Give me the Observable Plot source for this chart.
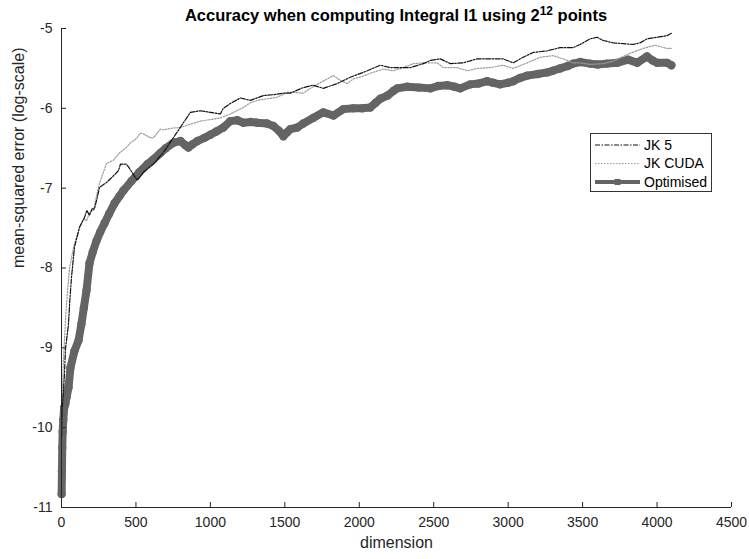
<!DOCTYPE html>
<html>
<head>
<meta charset="utf-8">
<script src="https://cdn.jsdelivr.net/npm/d3@7"></script>
<script src="https://cdn.jsdelivr.net/npm/@observablehq/plot@0.6"></script>
<style>
  html, body { margin: 0; padding: 0; background: #fff; }
  #wrap { position: relative; width: 749px; height: 559px; font-family: "Liberation Sans", Arial, sans-serif; }
  #title { position: absolute; left: 61px; width: 670px; top: 5px; text-align: center; font-weight: bold; font-size: 16.5px; line-height: 20px; color: #000; }
  #title .sup { position: relative; top: -0.5em; font-size: 0.72em; }
  #legend { position: absolute; left: 590px; top: 133px; }
</style>
</head>
<body>
<div id="wrap">
  <div id="chart"></div>
  <div id="title">Accuracy when computing Integral I1 using 2<span class="sup">12</span> points</div>
  <div id="legend"></div>
</div>
<script>
// ---- data ----
const xTicks = [0, 500, 1000, 1500, 2000, 2500, 3000, 3500, 4000, 4500];
const yTicks = [-11, -10, -9, -8, -7, -6, -5];
const seriesNames = ["JK 5", "JK CUDA", "Optimised"];

const jk5Dim = [1,5,13,20,27,47,56,67,87,121,154,170,188,205,221,240,255,302,336,383,396,436,456,490,510,550,617,685,765,819,866,933,1000,1067,1087,1134,1201,1268,1356,1420,1490,1537,1624,1691,1758,1852,1940,2027,2141,2208,2275,2342,2430,2477,2544,2611,2698,2792,2879,2966,3034,3101,3168,3262,3349,3436,3483,3550,3597,3638,3705,3772,3839,3886,3933,4000,4067,4096];
const jk5Val = [-10.1,-9.75,-9.54,-9.32,-9.01,-8.70,-8.40,-8.12,-7.74,-7.49,-7.37,-7.28,-7.34,-7.26,-7.26,-7.12,-6.99,-6.93,-6.87,-6.78,-6.70,-6.70,-6.75,-6.85,-6.90,-6.80,-6.70,-6.55,-6.33,-6.18,-6.05,-6.03,-6.05,-6.07,-6.00,-5.94,-5.87,-5.90,-5.84,-5.83,-5.81,-5.81,-5.74,-5.71,-5.75,-5.69,-5.61,-5.55,-5.46,-5.49,-5.49,-5.49,-5.44,-5.40,-5.38,-5.44,-5.43,-5.38,-5.38,-5.38,-5.43,-5.36,-5.30,-5.28,-5.24,-5.24,-5.20,-5.13,-5.11,-5.15,-5.18,-5.19,-5.20,-5.18,-5.13,-5.11,-5.09,-5.06];

const cudaDim = [1,5,12,20,30,42,54,81,121,150,168,190,215,235,255,302,349,389,436,463,503,530,550,597,617,664,685,732,799,846,933,1000,1067,1134,1221,1268,1315,1450,1517,1557,1624,1671,1738,1785,1826,1872,1919,1960,2007,2074,2161,2228,2295,2362,2430,2523,2564,2658,2725,2792,2879,2966,3034,3128,3215,3302,3369,3436,3483,3550,3638,3705,3819,3906,3987,4067,4096];
const cudaVal = [-10.0,-9.6,-9.2,-8.9,-8.55,-8.25,-8.00,-7.74,-7.49,-7.38,-7.41,-7.30,-7.28,-7.10,-6.94,-6.69,-6.65,-6.56,-6.49,-6.43,-6.38,-6.31,-6.32,-6.37,-6.37,-6.26,-6.27,-6.25,-6.24,-6.21,-6.16,-6.14,-6.12,-6.07,-5.99,-5.93,-5.90,-5.86,-5.80,-5.80,-5.81,-5.75,-5.68,-5.63,-5.59,-5.65,-5.69,-5.63,-5.61,-5.56,-5.51,-5.53,-5.49,-5.44,-5.43,-5.43,-5.49,-5.49,-5.53,-5.50,-5.49,-5.46,-5.50,-5.43,-5.36,-5.34,-5.38,-5.43,-5.43,-5.45,-5.44,-5.41,-5.31,-5.25,-5.21,-5.25,-5.25];

const optDim = [1,3,5,8,12,18,26,34,47,60,87,114,134,150,168,188,210,235,260,289,320,356,390,416,470,523,577,617,664,700,752,799,830,852,880,913,960,1000,1040,1087,1134,1181,1221,1270,1315,1380,1423,1460,1490,1515,1537,1584,1624,1690,1758,1826,1893,1960,2020,2074,2110,2141,2190,2230,2255,2322,2400,2477,2530,2591,2640,2678,2745,2800,2859,2900,2946,3000,3034,3080,3128,3200,3262,3300,3349,3400,3436,3483,3550,3600,3664,3732,3805,3866,3933,3970,4000,4067,4096];
const optVal = [-10.83,-10.55,-10.25,-10.05,-9.9,-9.75,-9.7,-9.62,-9.5,-9.25,-9.04,-8.91,-8.70,-8.5,-8.28,-7.94,-7.80,-7.66,-7.55,-7.44,-7.32,-7.19,-7.10,-7.03,-6.91,-6.80,-6.70,-6.64,-6.56,-6.50,-6.43,-6.41,-6.46,-6.49,-6.45,-6.41,-6.37,-6.33,-6.29,-6.24,-6.16,-6.15,-6.18,-6.17,-6.18,-6.19,-6.22,-6.28,-6.35,-6.30,-6.26,-6.24,-6.19,-6.12,-6.05,-6.09,-6.01,-6.00,-6.00,-5.99,-5.93,-5.88,-5.84,-5.78,-5.75,-5.73,-5.74,-5.75,-5.72,-5.71,-5.73,-5.75,-5.70,-5.69,-5.66,-5.68,-5.70,-5.68,-5.66,-5.62,-5.59,-5.57,-5.55,-5.53,-5.50,-5.47,-5.44,-5.42,-5.44,-5.45,-5.44,-5.43,-5.39,-5.43,-5.35,-5.40,-5.43,-5.43,-5.46];

// ---- tables ----
const toRows = (dims, vals) => dims.map((d, i) => ({d, v: vals[i]}));
const jk5 = toRows(jk5Dim, jk5Val);
const cuda = toRows(cudaDim, cudaVal);
const opt = toRows(optDim, optVal);

const axisColor = "#262626";
const optColor = "#646464";
const cudaColor = "#9c9c9c";
const jk5Color = "#111111";

const chart = Plot.plot({
  width: 749,
  height: 559,
  marginLeft: 61,
  marginRight: 18,
  marginTop: 28,
  marginBottom: 52,
  style: {fontFamily: "'Liberation Sans', Arial, sans-serif", background: "#fff", overflow: "visible"},
  x: {domain: [0, 4500]},
  y: {domain: [-11, -5]},
  marks: [
    Plot.line(opt, {x: "d", y: "v", stroke: optColor, strokeWidth: 8, strokeLinejoin: "round", strokeLinecap: "round"}),
    Plot.dot(opt, {x: "d", y: "v", r: 4.2, fill: optColor, stroke: null}),
    Plot.line(cuda, {x: "d", y: "v", stroke: cudaColor, strokeWidth: 1.2, strokeDasharray: "1.5,1.5"}),
    Plot.line(jk5, {x: "d", y: "v", stroke: jk5Color, strokeWidth: 1.2, strokeDasharray: "5,1.5,1.5,1.5"}),
    Plot.ruleX([0], {stroke: axisColor}),
    Plot.ruleY([-11], {stroke: axisColor}),
    Plot.axisX({ticks: xTicks, tickSize: -5, tickPadding: 15, tickFormat: d => String(d), fontSize: 14, color: axisColor, label: null}),
    Plot.axisY({ticks: yTicks, tickSize: -5, tickPadding: 14, tickFormat: d => String(d), fontSize: 14, color: axisColor, label: null}),
    Plot.text(["dimension"], {frameAnchor: "bottom", dy: 40, fontSize: 16, fill: axisColor}),
    Plot.text(["mean-squared error (log-scale)"], {frameAnchor: "left", dx: -43, rotate: -90, fontSize: 16, fill: axisColor})
  ]
});
document.getElementById("chart").appendChild(chart);

// ---- legend ----
const lg = d3.select("#legend").append("svg").attr("width", 122).attr("height", 59)
  .style("font-family", "'Liberation Sans', Arial, sans-serif");
lg.append("rect").attr("x", 0.5).attr("y", 0.5).attr("width", 121).attr("height", 58)
  .attr("fill", "#fff").attr("stroke", "#333");
const styles = [
  {stroke: jk5Color, w: 1.2, dash: "5,1.5,1.5,1.5"},
  {stroke: cudaColor, w: 1.2, dash: "1.5,1.5"},
  {stroke: optColor, w: 4, dash: null}
];
seriesNames.forEach((name, i) => {
  const y = 12 + i * 18.5;
  const s = styles[i];
  lg.append("line").attr("x1", 5).attr("x2", 50).attr("y1", y).attr("y2", y)
    .attr("stroke", s.stroke).attr("stroke-width", s.w).attr("stroke-dasharray", s.dash);
  if (i === 2) lg.append("rect").attr("x", 24.5).attr("y", y - 3).attr("width", 6).attr("height", 6).attr("fill", optColor);
  lg.append("text").attr("x", 54).attr("y", y).attr("dy", "0.35em").attr("font-size", 14).attr("fill", "#000").text(name);
});
</script>
</body>
</html>
